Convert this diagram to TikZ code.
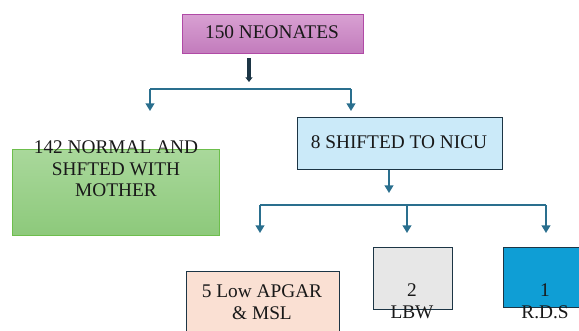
\documentclass[tikz,border=0pt]{standalone}
\usepackage{fontspec}
\setmainfont{Liberation Serif}
\usetikzlibrary{arrows.meta}
\definecolor{linkblue}{HTML}{2A6F8E}
\definecolor{darkline}{HTML}{1C3545}
\definecolor{pinktop}{HTML}{D8A0D2}
\definecolor{pinkbot}{HTML}{C27BBC}
\definecolor{pinkline}{HTML}{B04AA6}
\definecolor{greentop}{HTML}{A9D89B}
\definecolor{greenbot}{HTML}{8DC97B}
\definecolor{greenline}{HTML}{6DBE4C}
\definecolor{nicublue}{HTML}{CBEAF9}
\definecolor{peach}{HTML}{FAE0D3}
\definecolor{lightgrey}{HTML}{E7E7E7}
\definecolor{rdsblue}{HTML}{0F9ED5}

\begin{document}
\begin{tikzpicture}[x=0.03cm,y=-0.03cm,
    box/.style={draw=darkline, line width=1pt, inner sep=0pt, anchor=north west},
    txt/.style={font=\fontsize{16.5}{18.5}\selectfont, align=center, inner sep=0pt, text=black!90},
    link/.style={draw=linkblue, line width=1.3pt},
    conn/.style={link, -{Triangle[width=7.5pt,length=6.5pt]}}]
    \clip (0,0) rectangle (579,330);
    % boxes
    \node[box, draw=pinkline, top color=pinktop, bottom color=pinkbot, minimum width=5.43cm, minimum height=1.17cm] (neo) at (182,14) {};
    \node[box, draw=greenline, top color=greentop, bottom color=greenbot, minimum width=6.21cm, minimum height=2.58cm] (normal) at (12,149) {};
    \node[box, fill=nicublue, minimum width=6.15cm, minimum height=1.56cm] (nicu) at (297,117) {};
    \node[box, fill=peach, minimum width=4.59cm, minimum height=2.1cm] (apgar) at (186,271) {};
    \node[box, fill=lightgrey, minimum width=2.37cm, minimum height=1.86cm] (lbw) at (373,247) {};
    \node[box, fill=rdsblue, minimum width=2.91cm, minimum height=1.8cm] (rds) at (503,247) {};
    % texts
    \node[txt] (tneo) at (272,32) {150 NEONATES};
    \node[txt] (tnormal) at (116,169) {142 NORMAL AND\\SHFTED WITH\\MOTHER};
    \node[txt] (tnicu) at (399,142) {8 SHIFTED TO NICU};
    \node[txt] (tapgar) at (262,302) {5 Low APGAR\\\& MSL};
    \node[txt] (tlbw) at (412,301) {2\\LBW};
    \node[txt] (trds) at (545,301) {1\\R.D.S};
    % connectors
    \coordinate (n1) at (249,58);
    \coordinate (n2) at (249,82);
    \draw[darkline, line width=3pt, -{Triangle[width=6pt,length=4pt]}] (n1) -- (n2);
    \coordinate (s1l) at (150,89);
    \coordinate (s1r) at (351,89);
    \draw[link] (s1l) -- (s1r);
    \draw[conn] (s1l) -- (150,111);
    \draw[conn] (s1r) -- (351,111);
    \coordinate (s2) at (389,193);
    \draw[conn] (nicu.south -| s2) -- (s2);
    \coordinate (s2l) at (260,205);
    \coordinate (s2r) at (546,205);
    \draw[link] (s2l) -- (s2r);
    \foreach \x in {260,407,546}
        \draw[conn] (\x,205) -- (\x,233);
\end{tikzpicture}
\end{document}
